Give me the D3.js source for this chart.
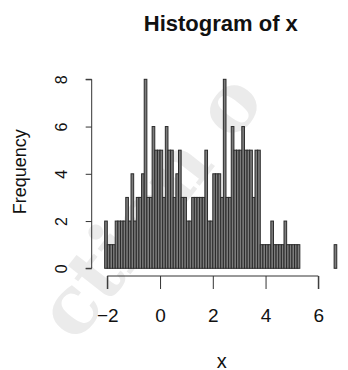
<!DOCTYPE html>
<html>
<head>
<meta charset="utf-8">
<script src="https://cdn.jsdelivr.net/npm/d3@7/dist/d3.min.js"></script>
<style>
  html, body { margin: 0; padding: 0; background: #fff; }
  svg { display: block; }
  text { font-family: "Liberation Sans", Arial, Helvetica, sans-serif; fill: #111; }
</style>
</head>
<body>
<svg id="chart" width="348" height="370"></svg>
<script>
// Histogram of x: bins of width 0.1 starting at -2.1
const firstBreak = -2.1;
const binWidth = 0.1;
const counts = [
  2, 1, 1, 1, 2, 2, 2, 2, 3, 2,
  4, 2, 3, 3, 4, 8, 3, 3, 6, 5,
  5, 5, 3, 6, 5, 5, 3, 4, 5, 3,
  3, 2, 2, 3, 3, 3, 3, 3, 5, 2,
  2, 4, 4, 4, 3, 8, 3, 3, 6, 5,
  5, 5, 6, 5, 5, 5, 3, 5, 5, 1,
  1, 1, 1, 2, 1, 1, 1, 1, 2, 1,
  1, 1, 1, 1, 0, 0, 0, 0, 0, 0,
  0, 0, 0, 0, 0, 0, 0, 1
];
const xTicks = [-2, 0, 2, 4, 6];
const yTicks = [0, 2, 4, 6, 8];
const titleText = "Histogram of x";
const xLabel = "x";
const yLabel = "Frequency";

const bins = counts.map((c, i) => ({
  x0: firstBreak + i * binWidth,
  x1: firstBreak + (i + 1) * binWidth,
  count: c
}));

const svg = d3.select("#chart");

const x = d3.scaleLinear().domain([-2, 6]).range([107.3, 318.3]);
const y = d3.scaleLinear().domain([0, 8]).range([268.3, 79.3]);

// faint background lettering
svg.append("text")
  .attr("transform", "translate(76,344) rotate(-52)")
  .attr("font-size", 80)
  .attr("font-weight", "bold")
  .style("fill", "#ebebeb")
  .style("font-family", "'DejaVu Serif', serif")
  .text("ction o");

// bars
svg.append("g")
  .selectAll("rect")
  .data(bins)
  .join("rect")
  .attr("x", d => x(d.x0))
  .attr("width", d => x(d.x1) - x(d.x0))
  .attr("y", d => y(d.count))
  .attr("height", d => y(0) - y(d.count))
  .attr("fill", "#7c7c7c")
  .attr("stroke", "#2a2a2a")
  .attr("stroke-width", 1);

// x axis
const xAxis = d3.axisBottom(x)
  .tickValues(xTicks)
  .tickSize(13)
  .tickPadding(5)
  .tickFormat(d => d < 0 ? "\u2212" + Math.abs(d) : String(d));
const gx = svg.append("g").attr("transform", "translate(0,276)").call(xAxis);
gx.select(".domain").attr("stroke", "#333").attr("d", `M${x(-2)},13V0H${x(6)}V13`);
gx.selectAll(".tick line").attr("stroke", "#333");
gx.selectAll(".tick text")
  .attr("font-size", 19)
  .attr("dy", null)
  .attr("y", 45.5)
  .style("fill", "#111")
  .style("font-family", "'Liberation Sans', Arial, sans-serif");

// y axis
const yAxis = d3.axisLeft(y)
  .tickValues(yTicks)
  .tickSize(6)
  .tickFormat(d3.format("d"));
const gy = svg.append("g").attr("transform", "translate(91.7,0)").call(yAxis);
gy.select(".domain").attr("stroke", "#333").attr("d", `M-6,${y(0)}H0V${y(8)}H-6`);
gy.selectAll(".tick line").attr("stroke", "#333");
gy.selectAll(".tick text")
  .attr("x", null)
  .attr("dy", null)
  .attr("transform", "translate(-24.5,0) rotate(-90)")
  .attr("text-anchor", "middle")
  .attr("font-size", 16)
  .style("fill", "#111")
  .style("font-family", "'Liberation Sans', Arial, sans-serif");

// titles
svg.append("text")
  .attr("x", 220.8)
  .attr("y", 30.7)
  .attr("text-anchor", "middle")
  .attr("font-size", 22)
  .attr("font-weight", "bold")
  .text(titleText);

svg.append("text")
  .attr("x", 221.7)
  .attr("y", 367.5)
  .attr("text-anchor", "middle")
  .attr("font-size", 20)
  .text(xLabel);

svg.append("text")
  .attr("transform", "translate(25.5,171.7) rotate(-90)")
  .attr("text-anchor", "middle")
  .attr("font-size", 18)
  .text(yLabel);
</script>
</body>
</html>
